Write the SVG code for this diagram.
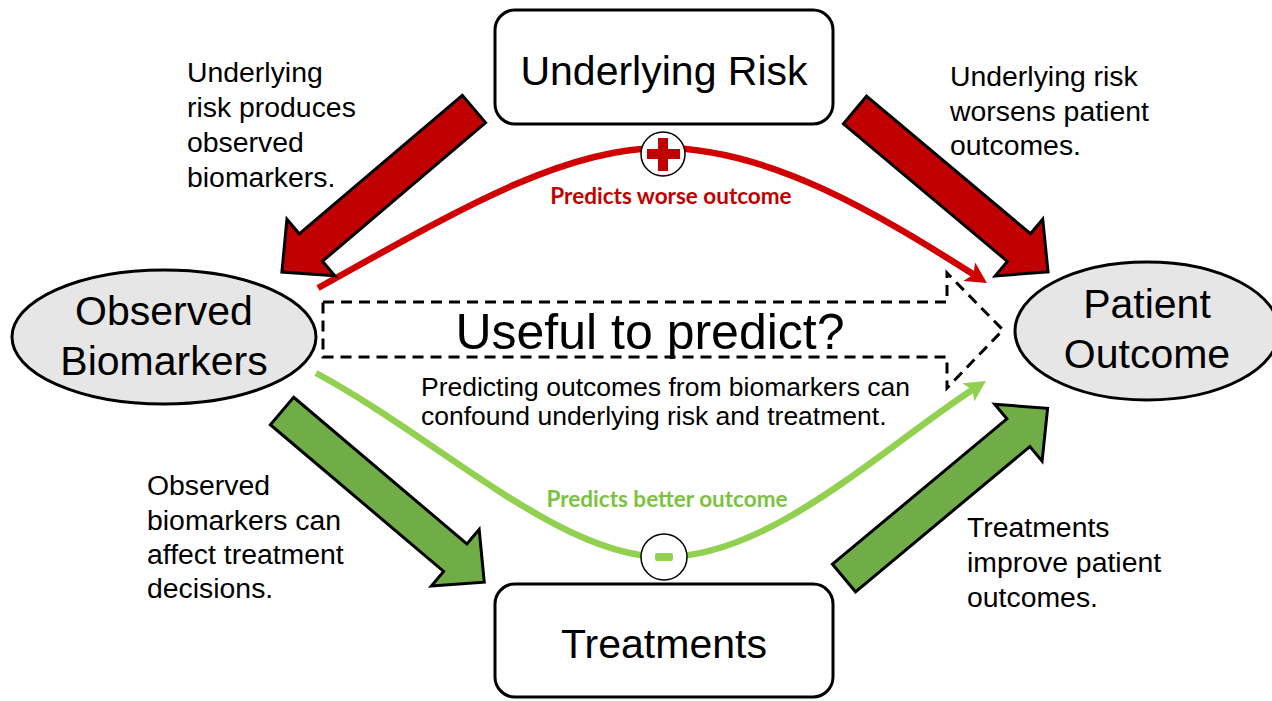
<svg xmlns="http://www.w3.org/2000/svg" width="1272" height="701" viewBox="0 0 1272 701">
<style>
.t{font-family:"Liberation Sans",Arial,sans-serif;fill:#000}
.side{font-size:28.4px}
.node{font-size:41px;text-anchor:middle}
.cap{font-family:Lato,"Open Sans",sans-serif;font-weight:bold;font-size:22.5px;text-anchor:middle}
.box{fill:#fff;stroke:#000;stroke-width:3}
.ell{fill:#e7e6e6;stroke:#000;stroke-width:3}
.blk{stroke:#000;stroke-width:3;stroke-linejoin:miter}
.red{fill:#c00000}
.grn{fill:#70ad47}
</style>
<defs>
<marker id="ahR" markerUnits="userSpaceOnUse" markerWidth="40" markerHeight="40" refX="0" refY="0" orient="auto" viewBox="-20 -20 40 40" overflow="visible">
<path d="M-8,-11 L13,0 L-8,11 L-3,0 z" fill="#d00000"/>
</marker>
<marker id="ahG" markerUnits="userSpaceOnUse" markerWidth="40" markerHeight="40" refX="0" refY="0" orient="auto" viewBox="-20 -20 40 40" overflow="visible">
<path d="M-8,-11 L13,0 L-8,11 L-3,0 z" fill="#92d050"/>
</marker>
<polygon id="arrS" points="0,-18 214,-18 214,-37 252,0 214,37 214,18 0,18"/>
<polygon id="arrL" points="0,-18 227,-18 227,-37 265,0 227,37 227,18 0,18"/>
</defs>

<g id="connectors">
<path id="c-worse" d="M318,288 C450,215 560,148 662,148 C770,148 880,215 976,276" fill="none" stroke="#d00000" stroke-width="6.5" marker-end="url(#ahR)"/>
<path id="c-better" d="M316,373 C440,440 560,557 664,557 C770,557 880,450 975,388" fill="none" stroke="#92d050" stroke-width="6.5" marker-end="url(#ahG)"/>
<path id="c-useful" d="M323,302 L947,302 L947,273 L1003,330 L947,388 L947,357 L323,357 Z" fill="none" stroke="#000" stroke-width="3" stroke-dasharray="11,7"/>
<use href="#arrS" class="blk red" transform="translate(474,109) rotate(139.67)"/>
<use href="#arrS" class="blk red" transform="translate(855,110) rotate(40)"/>
<use href="#arrL" class="blk grn" transform="translate(282,411) rotate(40.25)"/>
<use href="#arrL" class="blk grn" transform="translate(844,578) rotate(-39.8)"/>
</g>

<g id="node-risk">
<rect class="box" x="495" y="10" width="338" height="114" rx="20"/>
<text class="t node" x="664" y="85">Underlying Risk</text>
</g>
<g id="node-treat">
<rect class="box" x="495" y="584" width="338" height="113" rx="20"/>
<text class="t node" x="664" y="658">Treatments</text>
</g>
<g id="node-bio">
<ellipse class="ell" cx="164" cy="337" rx="152" ry="67"/>
<text class="t node" x="164" y="325">Observed</text>
<text class="t node" x="164" y="375">Biomarkers</text>
</g>
<g id="node-outcome">
<ellipse class="ell" cx="1147" cy="331" rx="132" ry="69"/>
<text class="t node" x="1147" y="318">Patient</text>
<text class="t node" x="1147" y="368">Outcome</text>
</g>

<g id="plus">
<circle cx="663" cy="154" r="22" fill="#fff" stroke="#000" stroke-width="1.5"/>
<rect x="647" y="149" width="33" height="10" fill="#c00000"/>
<rect x="658" y="138" width="10" height="33" fill="#c00000"/>
</g>
<g id="minus">
<circle cx="664" cy="557" r="23" fill="#fff" stroke="#000" stroke-width="1.5"/>
<rect x="655" y="553" width="18" height="8" rx="2" fill="#92d050"/>
</g>

<g id="labels">
<text class="cap" x="671" y="204" fill="#c00000">Predicts worse outcome</text>
<text class="cap" x="667" y="507" fill="#7cc242">Predicts better outcome</text>
<text class="t" x="650" y="349" font-size="50" text-anchor="middle">Useful to predict?</text>
<text class="t" x="421" y="396" font-size="26.5">Predicting outcomes from biomarkers can</text>
<text class="t" x="421" y="425" font-size="26.5">confound underlying risk and treatment.</text>
<text class="t side" x="187"><tspan x="187" y="82">Underlying</tspan><tspan x="187" y="117">risk produces</tspan><tspan x="187" y="152">observed</tspan><tspan x="187" y="187">biomarkers.</tspan></text>
<text class="t side" x="950"><tspan x="950" y="86">Underlying risk</tspan><tspan x="950" y="121">worsens patient</tspan><tspan x="950" y="155">outcomes.</tspan></text>
<text class="t side" x="147"><tspan x="147" y="495">Observed</tspan><tspan x="147" y="530">biomarkers can</tspan><tspan x="147" y="564">affect treatment</tspan><tspan x="147" y="598">decisions.</tspan></text>
<text class="t side" x="967"><tspan x="967" y="537">Treatments</tspan><tspan x="967" y="572">improve patient</tspan><tspan x="967" y="607">outcomes.</tspan></text>
</g>
</svg>
